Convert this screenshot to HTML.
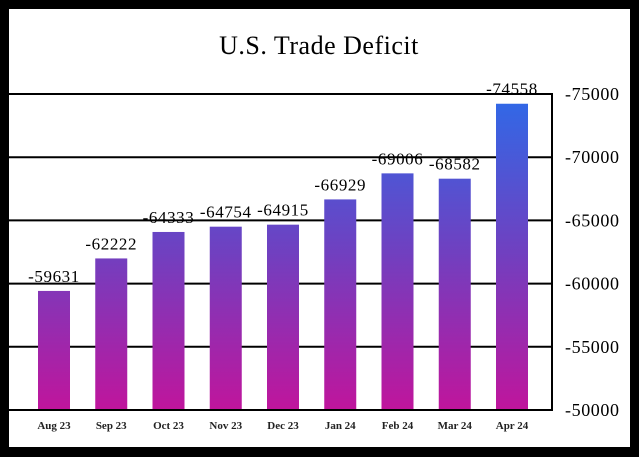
<!DOCTYPE html>
<html><head><meta charset="utf-8"><style>
html,body{margin:0;padding:0;background:#000;}
svg{display:block;}
</style></head><body>
<svg width="639" height="457" viewBox="0 0 639 457">
<defs>
<linearGradient id="barGrad" gradientUnits="userSpaceOnUse" x1="0" y1="94" x2="0" y2="410">
<stop offset="0" stop-color="#2e6ae8"/>
<stop offset="0.5" stop-color="#7040c0"/>
<stop offset="1" stop-color="#c0159c"/>
</linearGradient>
</defs>
<rect x="0" y="0" width="639" height="457" fill="#000"/>
<rect x="9" y="9" width="621" height="438" fill="#fff"/>
<text x="319" y="54" text-anchor="middle" font-family="Liberation Serif, serif" font-size="26" letter-spacing="0.5" fill="#000">U.S. Trade Deficit</text>
<g id="grid"></g>
<g id="bars"></g>
<g id="labels"></g>
</svg>
<script>
const categories = ["Aug 23","Sep 23","Oct 23","Nov 23","Dec 23","Jan 24","Feb 24","Mar 24","Apr 24"];
const values = [-59631,-62222,-64333,-64754,-64915,-66929,-69006,-68582,-74558];
const ticks = [-50000,-55000,-60000,-65000,-70000,-75000];
const NS = "http://www.w3.org/2000/svg";
const plotL = 9, plotR = 552, yBot = 410, yTop = 94;
function yScale(v){ return yBot - (Math.abs(v) - 50000) / 25000 * (yBot - yTop); }
// bars are drawn on a hidden secondary axis
function barScale(v){ return 1038.7 - 0.01254 * Math.abs(v); }
function xCenter(i){ return 54 + i * 57.25; }
const grid = document.getElementById('grid');
const bars = document.getElementById('bars');
const labels = document.getElementById('labels');
ticks.forEach(t => {
  const y = yScale(t);
  const l = document.createElementNS(NS,'line');
  l.setAttribute('x1',plotL); l.setAttribute('x2',plotR);
  l.setAttribute('y1',y); l.setAttribute('y2',y);
  l.setAttribute('stroke','#000'); l.setAttribute('stroke-width','2');
  
  
  grid.appendChild(l);
  const tx = document.createElementNS(NS,'text');
  tx.setAttribute('x',565); tx.setAttribute('y',y+6);
  tx.setAttribute('font-family','Liberation Serif, serif');
  tx.setAttribute('font-size','18');
  tx.setAttribute('letter-spacing','0.6');
  tx.textContent = String(t);
  
  
  grid.appendChild(tx);
});
const vl = document.createElementNS(NS,'line');
vl.setAttribute('x1',plotR); vl.setAttribute('x2',plotR);
vl.setAttribute('y1',yTop-1); vl.setAttribute('y2',yBot+1);
vl.setAttribute('stroke','#000'); vl.setAttribute('stroke-width','2');


grid.appendChild(vl);
const bw = 32;
values.forEach((v,i) => {
  const cx = xCenter(i), y = barScale(v);
  const r = document.createElementNS(NS,'rect');
  r.setAttribute('x',cx-bw/2); r.setAttribute('y',y);
  r.setAttribute('width',bw); r.setAttribute('height',yBot-1-y);
  r.setAttribute('fill','url(#barGrad)');
  
  
  bars.appendChild(r);
  const vt = document.createElementNS(NS,'text');
  vt.setAttribute('x',cx); vt.setAttribute('y',y-9);
  vt.setAttribute('text-anchor','middle');
  vt.setAttribute('font-family','Liberation Serif, serif');
  vt.setAttribute('font-size','17');
  vt.setAttribute('letter-spacing','0.6');
  vt.textContent = String(v);
  
  
  labels.appendChild(vt);
  const ct = document.createElementNS(NS,'text');
  ct.setAttribute('x',cx); ct.setAttribute('y',429);
  ct.setAttribute('text-anchor','middle');
  ct.setAttribute('font-family','Liberation Serif, serif');
  ct.setAttribute('font-size','11');
  ct.setAttribute('font-weight','bold');
  ct.setAttribute('fill','#222');
  ct.textContent = categories[i];
  
  
  labels.appendChild(ct);
});
</script>
</body></html>
